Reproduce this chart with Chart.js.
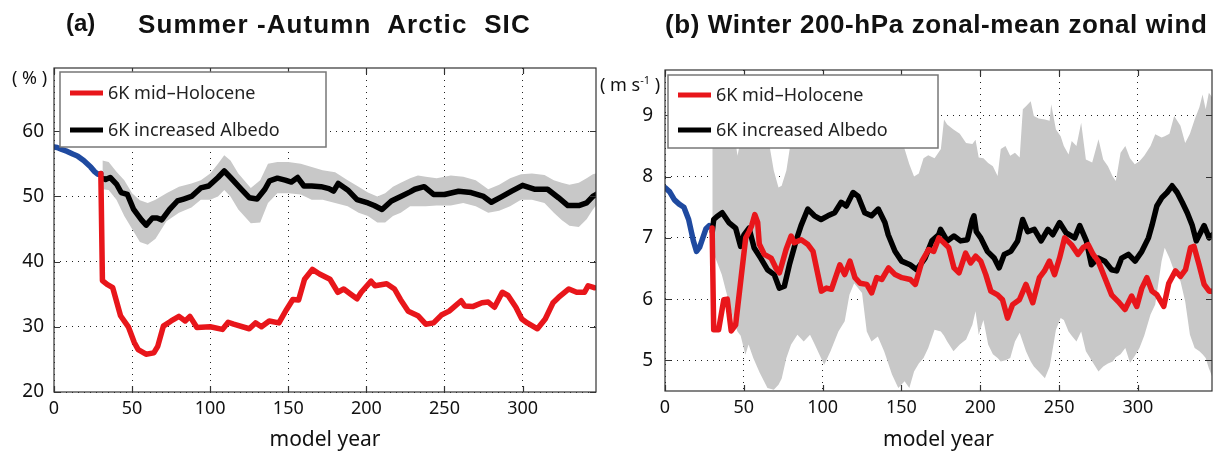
<!DOCTYPE html>
<html>
<head>
<meta charset="utf-8">
<script src="https://cdn.jsdelivr.net/npm/chart.js@4/dist/chart.umd.min.js"></script>
<style>
  body { margin: 0; background: #fff; width: 1220px; height: 463px; position: relative; overflow: hidden; }
  .panel { position: absolute; top: 0; width: 610px; height: 463px; }
  .txt { position: absolute; white-space: pre; color: #111; line-height: 1; }
  .ttl { font: bold 26px "Liberation Sans", Arial, sans-serif; }
  .unit { font: 18px "Noto Sans", sans-serif; }
</style>
</head>
<body>
<div class="panel" style="left:0"><canvas id="chartA" width="610" height="463"></canvas></div>
<div class="panel" style="left:610px"><canvas id="chartB" width="610" height="463"></canvas></div>

<div class="txt ttl" style="left:66px; top:9px; font-size:24px">(a)</div>
<div class="txt ttl" style="left:138px; top:9px; letter-spacing:1.1px">Summer -Autumn  Arctic  SIC</div>
<div class="txt ttl" style="left:665px; top:9px; letter-spacing:0.6px">(b) Winter 200-hPa zonal-mean zonal wind</div>
<div class="txt unit" style="left:12px; top:65px">( % )</div>
<div class="txt unit" style="left:600px; top:72px">( m s<sup style="font-size:11px">-1</sup> )</div>

<script>
// ---------- panel (a): summer-autumn Arctic SIC (%) ----------
const aBlueYears  = [0, 2, 5, 8.5, 12, 15, 19, 23.5, 26, 28, 30];
const aBlue       = [57.6, 57.5, 57.2, 56.9, 56.5, 56.2, 55.5, 54.5, 53.8, 53.4, 53.5];

const aRedYears = [30, 31, 34, 37.6, 42.6, 47.6, 51.4, 53.9, 58.9, 63.9, 66.4, 70, 75, 80, 84, 87, 91.5, 100, 107.8, 111.5, 115, 125, 129, 132.8, 137.8, 144, 149, 152.9, 156.6, 160.4, 165.4, 170, 176.7, 181.7, 185.5, 190, 194, 196.7, 203, 205.5, 213, 218, 221.8, 226.8, 233, 238, 243, 248, 253, 256.9, 260.7, 263, 268, 274, 278, 282, 287, 290.7, 295.7, 299.5, 303, 309.5, 314.5, 319.5, 323, 329.6, 334.6, 339.6, 342, 345.8];
const aRed      = [53.5, 37.1, 36.5, 36.0, 31.7, 30.0, 27.6, 26.5, 25.8, 26.0, 27.0, 30.1, 30.9, 31.6, 30.9, 31.6, 29.9, 30.0, 29.6, 30.7, 30.4, 29.7, 30.6, 30.0, 30.9, 30.6, 32.7, 34.2, 34.1, 37.3, 38.8, 38.1, 37.3, 35.3, 35.8, 35.0, 34.3, 35.3, 37.0, 36.3, 36.6, 35.8, 34.2, 32.4, 31.7, 30.4, 30.6, 31.8, 32.4, 33.2, 34.0, 33.2, 33.1, 33.7, 33.8, 33.0, 35.3, 34.8, 33.0, 31.2, 30.6, 29.7, 31.2, 33.7, 34.5, 35.8, 35.3, 35.3, 36.3, 36.0];

const aBlackYears = [31, 33, 36, 40, 43, 47, 51, 56, 59, 63, 66, 69, 74, 79, 83, 88, 94, 99, 105, 109, 113, 120, 125, 130, 135, 138, 143, 148, 152, 156, 160, 165, 171, 176, 179, 182, 188, 194, 201, 205, 210, 216, 222, 228, 231, 237, 243, 250, 259, 267, 275, 280, 287, 293, 300, 308, 316, 323, 329, 336, 341, 345, 347];
const aBlack      = [52.8, 52.6, 52.9, 51.9, 50.6, 50.3, 48.0, 46.4, 45.6, 46.7, 46.7, 46.4, 48.0, 49.3, 49.6, 50.0, 51.3, 51.6, 52.9, 53.9, 52.9, 51.1, 49.8, 49.6, 51.1, 52.4, 52.8, 52.5, 52.2, 52.9, 51.6, 51.6, 51.5, 51.2, 50.8, 52.0, 51.0, 49.5, 49.0, 48.6, 48.0, 49.3, 50.0, 50.7, 51.1, 51.5, 50.3, 50.3, 50.8, 50.6, 50.0, 49.1, 50.0, 50.8, 51.7, 51.1, 51.1, 49.8, 48.6, 48.6, 49.0, 50.0, 50.3];

const aBandYears = [31, 35, 40, 45, 50, 55, 60, 65, 72, 80, 88, 94, 100, 105, 109, 113, 118, 126, 132, 137, 143, 150, 158, 165, 172, 180, 188, 195, 201, 207, 212, 217, 222, 228, 233, 238, 245, 254, 262, 270, 278, 285, 292, 299, 306, 314, 320, 325, 330, 336, 341, 345, 347];
const aBandTop   = [55.5, 55.3, 53.8, 52.5, 50.5, 49.4, 49.0, 49.5, 50.5, 51.5, 52.0, 52.5, 53.5, 55.0, 56.3, 55.5, 53.5, 51.3, 52.5, 55.0, 55.3, 55.3, 55.0, 54.5, 54.0, 53.7, 52.5, 51.5, 50.6, 50.0, 50.5, 51.5, 52.1, 52.8, 53.2, 53.0, 52.8, 53.2, 53.0, 52.5, 51.1, 51.8, 52.8, 53.4, 53.5, 53.3, 52.5, 52.1, 51.8, 52.1, 52.8, 53.4, 53.5];
const aBandBot   = [51.1, 51.0, 49.5, 47.0, 45.0, 43.0, 42.6, 43.5, 46.2, 47.5, 48.3, 49.5, 49.5, 50.0, 51.0, 50.0, 48.0, 45.9, 46.0, 49.0, 50.5, 50.5, 50.3, 49.5, 49.5, 49.0, 48.5, 47.5, 47.0, 46.0, 46.0, 47.0, 47.5, 48.5, 48.5, 48.5, 48.6, 48.6, 49.0, 48.5, 47.5, 47.8, 48.5, 49.5, 49.5, 49.0, 47.5, 46.4, 45.5, 45.3, 46.5, 48.0, 48.6];

// ---------- panel (b): winter 200-hPa zonal-mean zonal wind (m/s) ----------
const bBlueYears = [0, 3, 6, 9, 12, 15, 18, 20, 22, 24, 26, 28];
const bBlue      = [7.82, 7.75, 7.62, 7.55, 7.5, 7.3, 6.95, 6.78, 6.85, 7.0, 7.15, 7.2];

const bRedYears = [29.9, 30.9, 34, 37.3, 39.5, 42, 44.8, 48, 51.2, 53.3, 55, 57, 58.8, 59.8, 63, 67.3, 70.5, 72.6, 74.7, 76.8, 80, 82, 86.4, 90.7, 93.9, 97, 99.2, 102.4, 105.6, 107.7, 110.9, 114, 117.3, 120.5, 123.7, 128, 131.1, 134.3, 137.5, 141.8, 146, 150.3, 155.6, 158.8, 163, 167.3, 170.5, 173.7, 176.9, 180, 183.3, 186.5, 190.7, 193.9, 197.1, 200.3, 203.5, 206.7, 211, 214.1, 217.3, 220.5, 224.8, 229, 233.3, 237.5, 240.7, 243.9, 247.1, 250.3, 253.5, 257.8, 262, 265.2, 268.4, 271.6, 274.8, 279, 283.3, 287.5, 291.8, 296, 299.3, 302.5, 305.7, 308.9, 312.1, 316.4, 319.6, 323.8, 327, 330.2, 333.4, 335.6, 338.8, 342, 345.2, 347.3];
const bRed      = [7.16, 5.5, 5.5, 5.99, 6.0, 5.48, 5.58, 6.29, 7.0, 7.1, 7.2, 7.38, 7.25, 6.9, 6.73, 6.67, 6.5, 6.43, 6.62, 6.81, 7.03, 6.92, 6.97, 6.89, 6.78, 6.4, 6.13, 6.18, 6.16, 6.32, 6.56, 6.4, 6.62, 6.35, 6.26, 6.24, 6.1, 6.35, 6.32, 6.51, 6.4, 6.35, 6.32, 6.24, 6.62, 6.81, 6.78, 7.0, 6.92, 6.84, 6.51, 6.43, 6.75, 6.59, 6.7, 6.62, 6.4, 6.13, 6.07, 5.99, 5.69, 5.91, 5.99, 6.24, 5.94, 6.35, 6.46, 6.62, 6.4, 6.67, 7.0, 6.89, 6.73, 6.84, 6.89, 6.73, 6.62, 6.35, 6.07, 5.96, 5.83, 6.05, 5.88, 6.18, 6.35, 6.13, 6.07, 5.88, 6.26, 6.46, 6.37, 6.48, 6.84, 6.86, 6.56, 6.24, 6.13, 6.13];

const bBlackYears = [30, 30.9, 33, 36.3, 40.5, 44.8, 48, 50.1, 53.3, 56.5, 60.7, 65, 69.3, 72.5, 75.7, 78.9, 83.1, 86.3, 90.6, 94.8, 99, 103.3, 107.6, 111.8, 115, 119.3, 122.5, 126.7, 131, 135.3, 139.5, 141.6, 145.9, 150.1, 155.5, 159.7, 165, 169.3, 173.6, 174.8, 179, 183.3, 187.5, 191.8, 195, 196, 197.5, 200.3, 204.5, 208.8, 212, 215.2, 219.4, 223.7, 226.9, 230.1, 234.3, 238.6, 242.9, 246, 250.3, 254.5, 259.9, 263.1, 267.3, 270.5, 274.8, 279, 283.3, 286.5, 289.7, 294, 298.2, 302.5, 306.7, 308.9, 312, 315.3, 318.5, 321.7, 324.9, 328.1, 331.3, 334.5, 337, 340, 342, 345.2, 347.3];
const bBlack      = [7.1, 7.3, 7.35, 7.41, 7.25, 7.16, 6.86, 7.05, 7.16, 6.84, 6.67, 6.48, 6.4, 6.18, 6.21, 6.56, 6.95, 7.2, 7.47, 7.36, 7.3, 7.36, 7.41, 7.58, 7.52, 7.74, 7.68, 7.41, 7.36, 7.47, 7.25, 7.05, 6.78, 6.62, 6.56, 6.48, 6.67, 6.95, 7.05, 7.14, 6.95, 7.03, 6.95, 6.97, 7.3, 7.36, 7.1, 7.0, 6.78, 6.67, 6.51, 6.73, 6.78, 6.95, 7.3, 7.1, 7.14, 6.95, 7.14, 7.05, 7.25, 7.08, 7.0, 7.2, 6.95, 6.56, 6.67, 6.62, 6.48, 6.46, 6.67, 6.73, 6.62, 6.78, 7.0, 7.2, 7.52, 7.66, 7.74, 7.85, 7.74, 7.58, 7.41, 7.2, 6.95, 7.1, 7.2, 7.0, 7.05];

const bBandYears = [30, 33, 36, 40, 44, 46, 48, 51, 53, 56, 60, 65, 69, 72, 74, 77, 80, 84, 88, 92, 95, 98, 101, 105, 110, 114, 117, 120, 125, 128, 131, 135, 139, 144, 148, 152, 155, 158, 161, 164, 167, 171, 175, 177, 179, 183, 187, 191, 195, 197, 199, 202, 205, 208, 211, 213, 216, 219, 222, 225, 227, 229, 232, 234, 237, 241, 244, 245, 248, 251, 253, 256, 258, 261, 264, 267, 271, 275, 278, 281, 284, 286, 289, 292, 295, 298, 301, 304, 308, 311, 315, 317, 320, 323, 327, 330, 333, 336, 339, 341, 343, 345, 347];
const bBandTop   = [8.8, 8.9, 8.8, 8.9, 8.7, 8.34, 8.6, 8.9, 9.0, 8.9, 9.0, 8.7, 8.1, 7.82, 7.85, 8.1, 8.6, 8.9, 9.0, 8.9, 8.8, 9.0, 8.9, 9.1, 8.9, 8.8, 9.0, 9.1, 8.9, 8.8, 9.0, 8.9, 8.8, 8.9, 8.7, 8.45, 8.2, 8.0, 8.05, 8.3, 8.35, 8.3, 8.45, 8.93, 8.85, 8.77, 8.7, 8.55, 8.53, 8.6, 8.31, 8.3, 8.22, 8.17, 8.01, 8.45, 8.5, 8.34, 8.39, 8.31, 9.1, 9.15, 9.23, 8.99, 8.95, 8.93, 8.91, 9.18, 8.77, 8.66, 8.5, 8.36, 8.58, 8.5, 8.88, 8.28, 8.23, 8.61, 8.28, 8.17, 8.0, 7.93, 8.39, 8.5, 8.3, 8.2, 8.25, 8.34, 8.5, 8.69, 8.64, 8.66, 8.7, 8.99, 8.83, 8.55, 8.7, 8.93, 9.13, 9.34, 9.1, 9.37, 9.3];
const bBandBot   = [6.8, 6.6, 6.4, 6.0, 5.6, 5.47, 5.4, 5.09, 5.26, 5.04, 4.8, 4.55, 4.52, 4.6, 4.7, 5.04, 5.26, 5.42, 5.31, 5.42, 5.26, 5.09, 4.93, 5.15, 5.47, 5.64, 6.07, 6.26, 6.1, 5.47, 5.31, 5.39, 5.15, 4.77, 4.55, 4.66, 4.55, 4.82, 4.95, 5.04, 5.2, 5.5, 5.47, 5.4, 5.31, 5.15, 5.26, 5.34, 5.58, 5.8, 5.42, 5.66, 5.26, 5.1, 5.04, 4.98, 5.0, 5.04, 5.31, 5.45, 5.3, 5.15, 4.98, 4.9, 4.82, 4.71, 4.9, 5.04, 5.5, 5.69, 5.66, 5.47, 5.4, 5.31, 5.47, 5.15, 4.98, 4.82, 4.9, 4.95, 4.98, 5.05, 5.1, 5.2, 4.96, 5.07, 5.2, 5.4, 5.75, 5.91, 6.62, 6.84, 6.67, 6.46, 6.29, 5.96, 5.42, 5.2, 5.15, 5.1, 5.04, 4.87, 4.74];

const xTicksLabel = 'model year';
const legendLabels = ['6K mid\u2013Holocene', '6K increased Albedo'];

const RED = '#e8161b', BLACK = '#000000', BLUE = '#1f4aa0', GREY = '#c8c8c8';
const FONT = '"Noto Sans", sans-serif';

const pts = (xs, ys) => xs.map((x, i) => ({ x, y: ys[i] }));

// MATLAB-like box: frame, inward ticks on all four sides, boxed legend
const frameLegend = {
    id: 'frameLegend',
    afterDraw(chart, args, opts) {
        const { ctx, chartArea: a, scales } = chart;
        ctx.save();
        ctx.strokeStyle = '#333';
        ctx.lineWidth = 1.2;
        ctx.strokeRect(a.left, a.top, a.right - a.left, a.bottom - a.top);

        ctx.beginPath();
        scales.x.ticks.forEach(t => {
            const px = Math.round(scales.x.getPixelForValue(t.value)) + 0.5;
            ctx.moveTo(px, a.top); ctx.lineTo(px, a.top + 6);
            ctx.moveTo(px, a.bottom); ctx.lineTo(px, a.bottom - 6);
        });
        scales.y.ticks.forEach(t => {
            const py = Math.round(scales.y.getPixelForValue(t.value)) + 0.5;
            ctx.moveTo(a.left, py); ctx.lineTo(a.left + 6, py);
            ctx.moveTo(a.right, py); ctx.lineTo(a.right - 6, py);
        });
        ctx.stroke();

        const x = a.left + opts.dx, y = a.top + opts.dy;
        ctx.fillStyle = '#fff';
        ctx.fillRect(x, y, opts.w, opts.h);
        ctx.strokeStyle = '#777';
        ctx.lineWidth = 1.5;
        ctx.strokeRect(x, y, opts.w, opts.h);

        legendLabels.forEach((lab, i) => {
            const d = chart.data.datasets.find(s => s.label === lab);
            const cy = y + opts.row0 + i * opts.rowGap;
            ctx.strokeStyle = d.borderColor;
            ctx.lineWidth = 5;
            ctx.beginPath();
            ctx.moveTo(x + 10, cy);
            ctx.lineTo(x + 43, cy);
            ctx.stroke();
            ctx.fillStyle = '#222';
            ctx.font = '18px ' + FONT;
            ctx.textBaseline = 'middle';
            ctx.fillText(d.label, x + 48, cy + 1);
        });
        ctx.restore();
    }
};

function makeChart(id, d, y, box, yPad, xHeight) {
    const line = (label, color, data, order) => ({
        label, data, borderColor: color, backgroundColor: color,
        borderWidth: 5.5, pointRadius: 0, tension: 0, fill: false,
        order, borderJoinStyle: 'round', borderCapStyle: 'round'
    });
    return new Chart(document.getElementById(id), {
        type: 'line',
        data: {
            datasets: [
                { label: 'top', data: pts(d.bandX, d.bandTop), borderWidth: 0, pointRadius: 0,
                  backgroundColor: GREY, fill: '+1', order: 10 },
                { label: 'bot', data: pts(d.bandX, d.bandBot), borderWidth: 0, pointRadius: 0,
                  backgroundColor: GREY, fill: false, order: 11 },
                line('control', BLUE, pts(d.blueX, d.blue), 3),
                line(legendLabels[1], BLACK, pts(d.blackX, d.black), 2),
                line(legendLabels[0], RED, pts(d.redX, d.red), 1),
            ]
        },
        options: {
            responsive: false,
            animation: false,
            layout: { padding: { top: box.top, right: box.right, left: 0, bottom: 0 } },
            plugins: {
                legend: { display: false },
                tooltip: { enabled: false },
                frameLegend: box.legend
            },
            scales: {
                x: {
                    type: 'linear', min: 0, max: 347,
                    afterFit: s => { s.height = xHeight; },
                    ticks: { stepSize: 50, includeBounds: false, padding: 6, color: '#111',
                              font: { family: FONT, size: 18 } },
                    grid: { color: '#222', lineWidth: 1, drawTicks: false },
                    border: { display: false, dash: [1, 5] },
                    title: { display: true, text: xTicksLabel, color: '#111',
                             font: { family: FONT, size: 21 }, padding: { top: 0, bottom: 10 } }
                },
                y: {
                    type: 'linear', min: y.min, max: y.max,
                    afterFit: s => { s.width = box.left; },
                    ticks: { stepSize: y.step, includeBounds: false, padding: yPad, color: '#111',
                              font: { family: FONT, size: 19 } },
                    grid: { color: '#222', lineWidth: 1, drawTicks: false },
                    border: { display: false, dash: [1, 5] }
                }
            }
        },
        plugins: [frameLegend]
    });
}

makeChart('chartA', {
    bandX: aBandYears, bandTop: aBandTop, bandBot: aBandBot,
    blueX: aBlueYears, blue: aBlue,
    blackX: aBlackYears, black: aBlack,
    redX: aRedYears, red: aRed
}, { min: 20, max: 69.7, step: 10 },
{ left: 54, top: 68, right: 14,
  legend: { dx: 6, dy: 4, w: 266, h: 75, row0: 21, rowGap: 37 } }, 10, 71);

makeChart('chartB', {
    bandX: bBandYears, bandTop: bBandTop, bandBot: bBandBot,
    blueX: bBlueYears, blue: bBlue,
    blackX: bBlackYears, black: bBlack,
    redX: bRedYears, red: bRed
}, { min: 4.5, max: 9.74, step: 1 },
{ left: 55, top: 70, right: 8,
  legend: { dx: 3, dy: 5, w: 270, h: 73, row0: 20, rowGap: 35 } }, 12, 72);
</script>
</body>
</html>
